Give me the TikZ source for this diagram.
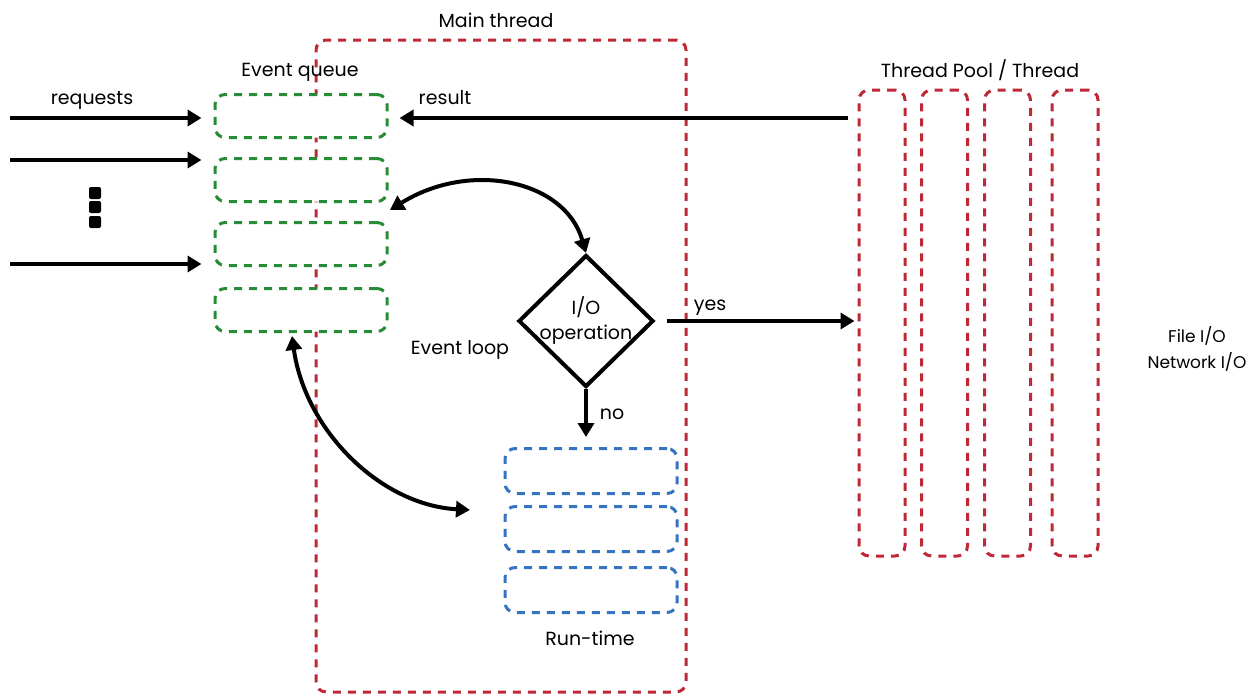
\documentclass[tikz,border=0pt]{standalone}
\usepackage{fontspec}
\setmainfont{Poppins}
\usetikzlibrary{arrows.meta,shapes.geometric}
\definecolor{tred}{RGB}{190,40,55}
\definecolor{tgreen}{RGB}{40,140,55}
\definecolor{tblue}{RGB}{55,115,195}
\tikzset{
  box/.style={rectangle, rounded corners=10pt, line width=3pt, dash pattern=on 8pt off 7pt, inner sep=0pt, fill=white},
  qbox/.style={box, draw=tgreen, minimum width=172pt, minimum height=43pt},
  rbox/.style={box, draw=tblue, minimum width=172pt, minimum height=45pt},
  tbox/.style={box, draw=tred, minimum width=46pt, minimum height=466pt, fill=none},
  lbl/.style={font=\fontsize{19}{22}\selectfont, inner sep=0pt},
  conn/.style={line width=4pt, -{Triangle[length=14pt,width=16pt]}},
  bconn/.style={line width=4pt, {Triangle[length=14pt,width=16pt]}-{Triangle[length=14pt,width=16pt]}},
  dot/.style={fill=black, rounded corners=2pt, minimum size=12pt, inner sep=0pt}
}
\begin{document}
\begin{tikzpicture}[x=1pt,y=-1pt]
\useasboundingbox (0,0) rectangle (1254,696);
% main thread
\node[box, draw=tred, fill=none, minimum width=370pt, minimum height=652pt] (main) at (501,366) {};
\node[lbl] (mainl) at (496,20) {Main thread};
% event queue
\node[qbox] (q1) at (301,116) {};
\node[qbox] (q2) at (301,180) {};
\node[qbox] (q3) at (301,244) {};
\node[qbox] (q4) at (301,310) {};
\node[lbl] (eql) at (300,72) {Event queue};
% requests
\coordinate (r1) at (10,118);
\coordinate (r2) at (10,160);
\coordinate (r3) at (10,264);
\draw[conn, shorten >=12pt] (r1) -- (r1 -| q1.west);
\draw[conn, shorten >=12pt] (r2) -- (r2 -| q2.west);
\draw[conn, shorten >=12pt] (r3) -- (r3 -| q3.west);
\node[lbl] (reql) at (92,100) {requests};
\node[dot] (d1) at (95,193) {};
\node[dot] (d2) at (95,207) {};
\node[dot] (d3) at (95,222) {};
% thread pool
\node[tbox] (t1) at (882,323) {};
\node[tbox] (t2) at (944.5,323) {};
\node[tbox] (t3) at (1007.5,323) {};
\node[tbox] (t4) at (1075,323) {};
\node[lbl] (tpl) at (980,70) {Thread Pool / Thread};
\node[lbl, align=center, font=\fontsize{17}{26}\selectfont] (fio) at (1197,349) {File I/O\\Network I/O};
% result
\coordinate (res) at (848,118);
\draw[conn, shorten >=11pt] (res) -- (res -| q1.east);
\node[lbl] (resl) at (445,98) {result};
% diamond
\node[diamond, draw, line width=4pt, minimum width=135pt, minimum height=132pt, inner sep=0pt] (io) at (586,321) {};
\node[lbl, align=center, font=\fontsize{19}{25}\selectfont] (iot) at (io.center) {I/O\\operation};
\node[lbl] (ell) at (460,350) {Event loop};
% loop curve 1
\coordinate (c1) at (390,210);
\draw[bconn] (c1) .. controls (470,160) and (565,180) .. (io.north);
% yes / no
\draw[conn, shorten <=11pt, shorten >=3pt] (io.east) -- (io.east -| t1.west);
\node[lbl] (yesl) at (710,308) {yes};
\node[rbox] (b1) at (591,471) {};
\node[rbox] (b2) at (591,529) {};
\node[rbox] (b3) at (591,590) {};
\draw[conn, shorten >=10pt] (io.south) -- (io.south |- b1.north);
\node[lbl] (nol) at (612,414) {no};
\node[lbl] (rtl) at (590,638) {Run-time};
% loop curve 2
\coordinate (c2) at (292,336);
\coordinate (c3) at (470,510);
\draw[bconn] (c2) .. controls (305,430) and (380,505) .. (c3);
\end{tikzpicture}
\end{document}
